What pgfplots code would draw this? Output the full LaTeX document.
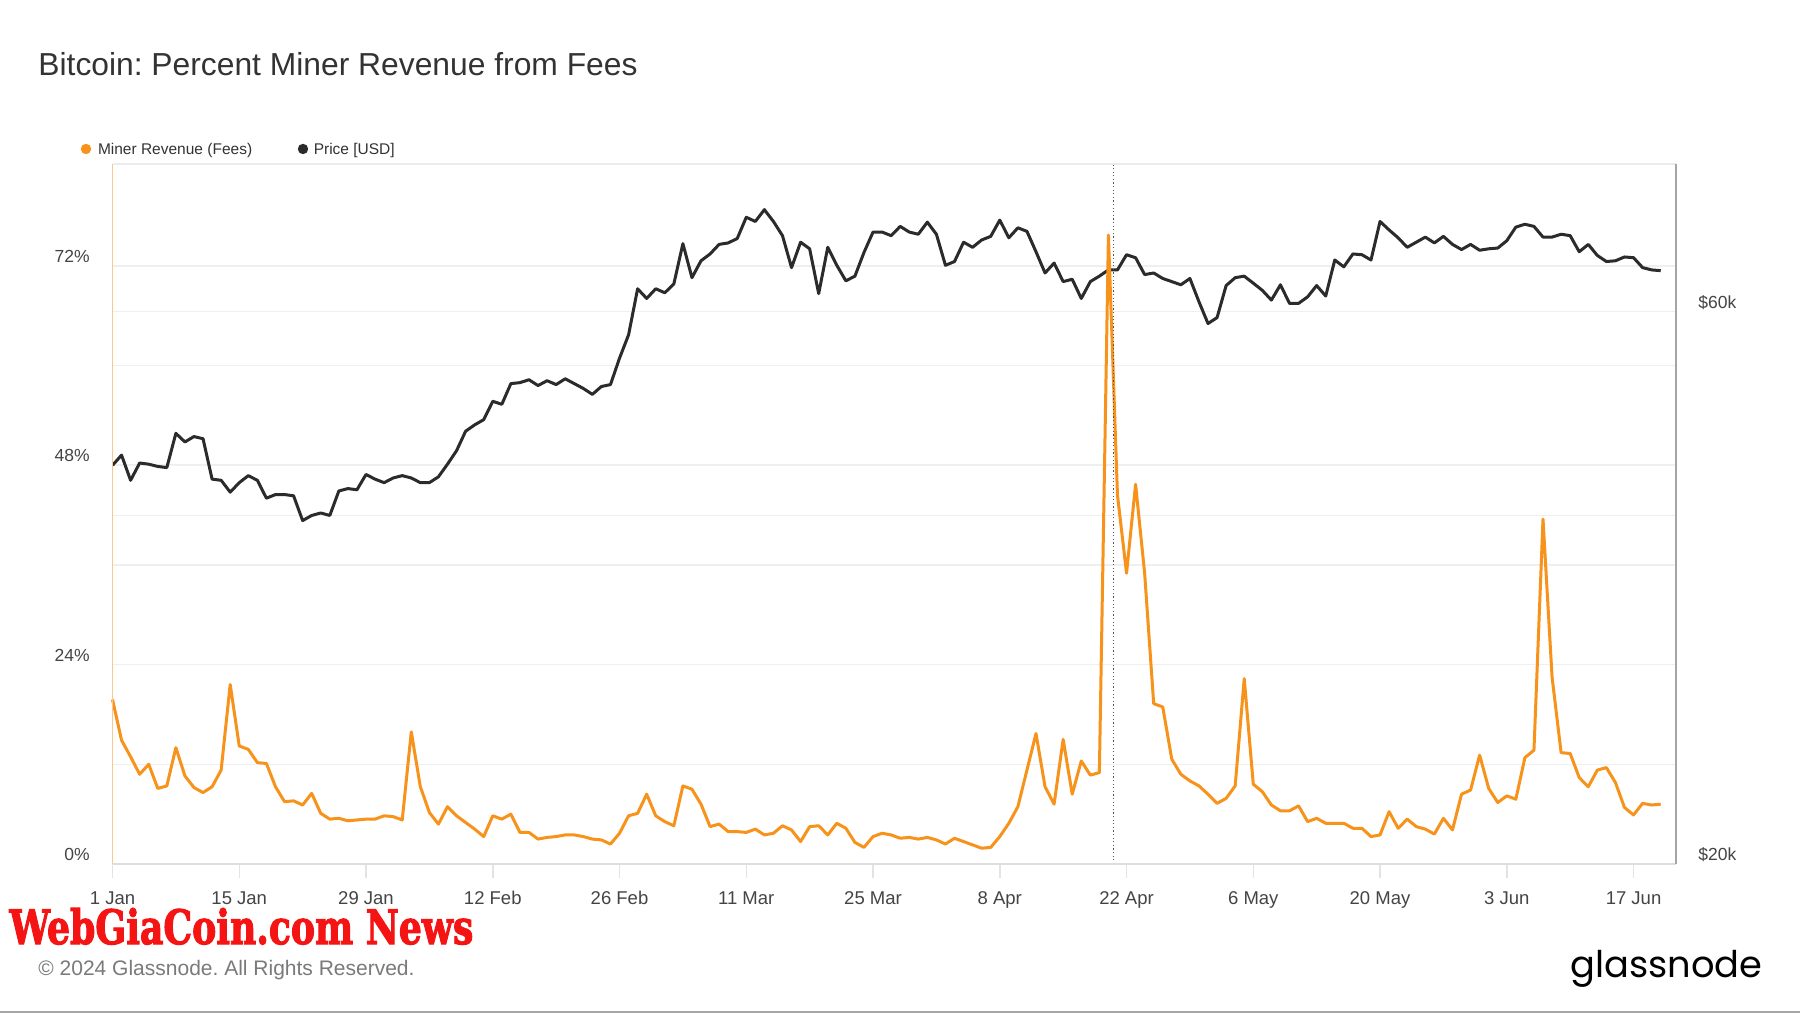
\documentclass[border=0pt]{standalone}
\usepackage{pgfplots}
\pgfplotsset{compat=1.18}
\usepackage{pgfplotstable}
\usepackage{graphicx}
\usepackage{fontspec}
\setmainfont{Liberation Sans}
\newfontfamily\wmfont{DejaVu Serif}[BoldFeatures={FakeBold=2.5}]
\newfontfamily\logofont{Poppins}
\definecolor{btc}{HTML}{F7931A}
\definecolor{pricec}{HTML}{2B2B2B}
\definecolor{gridc}{HTML}{EFEFEF}
\definecolor{txt}{HTML}{333333}
\definecolor{tickc}{HTML}{444444}
\definecolor{tickline}{HTML}{E3E3E3}
\definecolor{leftax}{HTML}{F9C890}
\definecolor{rightax}{HTML}{A5A5A5}
\definecolor{bottomax}{HTML}{DDDDDD}
\definecolor{topax}{HTML}{EBEBEB}
\definecolor{dotc}{HTML}{555555}
\definecolor{copyc}{HTML}{7A7A7A}
\definecolor{wmred}{HTML}{F51414}
\frenchspacing

\pgfplotstableread{
d p
0 44200
1 45100
2 42900
3 44400
4 44300
5 44100
6 44000
7 47100
8 46300
9 46800
10 46600
11 43000
12 42900
13 41900
14 42700
15 43300
16 42900
17 41400
18 41700
19 41700
20 41600
21 39600
22 40000
23 40200
24 40000
25 42000
26 42200
27 42100
28 43400
29 43000
30 42700
31 43100
32 43300
33 43100
34 42700
35 42700
36 43200
37 44300
38 45500
39 47300
40 47900
41 48400
42 50200
43 49900
44 52000
45 52100
46 52400
47 51800
48 52300
49 51900
50 52500
51 52000
52 51500
53 50900
54 51700
55 51900
56 54700
57 57300
58 62800
59 61600
60 62800
61 62300
62 63400
63 68700
64 64200
65 66400
66 67300
67 68600
68 68800
69 69400
70 72400
71 71800
72 73500
73 71800
74 69800
75 65500
76 68900
77 68000
78 62200
79 68200
80 65800
81 63800
82 64400
83 67500
84 70300
85 70300
86 69800
87 71100
88 70300
89 70000
90 71700
91 70000
92 65800
93 66300
94 68900
95 68200
96 69200
97 69700
98 72000
99 69500
100 70900
101 70400
102 67600
103 64800
104 66100
105 63700
106 64000
107 61600
108 63700
109 64400
110 65200
111 65200
112 67200
113 66800
114 64600
115 64800
116 64100
117 63700
118 63300
119 64100
120 61200
121 58600
122 59300
123 63200
124 64200
125 64400
126 63500
127 62600
128 61400
129 63300
130 61000
131 61000
132 61800
133 63200
134 61900
135 66500
136 65600
137 67300
138 67200
139 66500
140 71800
141 70600
142 69500
143 68200
144 68900
145 69600
146 68800
147 69700
148 68600
149 67900
150 68600
151 67800
152 68000
153 68100
154 69100
155 71000
156 71400
157 71100
158 69600
159 69600
160 70000
161 69800
162 67600
163 68600
164 67100
165 66300
166 66400
167 66900
168 66800
169 65500
170 65200
171 65100
}\pricetab

\pgfplotstableread{
d f
0 19.8
1 14.9
2 12.9
3 10.8
4 12.0
5 9.1
6 9.4
7 14.0
8 10.6
9 9.2
10 8.6
11 9.3
12 11.3
13 21.6
14 14.2
15 13.8
16 12.2
17 12.1
18 9.3
19 7.5
20 7.6
21 7.1
22 8.5
23 6.1
24 5.4
25 5.5
26 5.2
27 5.3
28 5.4
29 5.4
30 5.8
31 5.7
32 5.3
33 15.9
34 9.3
35 6.2
36 4.8
37 6.9
38 5.8
39 5.0
40 4.2
41 3.3
42 5.8
43 5.4
44 6.0
45 3.8
46 3.8
47 3.0
48 3.2
49 3.3
50 3.5
51 3.5
52 3.3
53 3.0
54 2.9
55 2.4
56 3.7
57 5.8
58 6.1
59 8.4
60 5.8
61 5.1
62 4.6
63 9.4
64 9.0
65 7.2
66 4.5
67 4.8
68 3.9
69 3.9
70 3.8
71 4.2
72 3.5
73 3.7
74 4.6
75 4.1
76 2.7
77 4.5
78 4.6
79 3.5
80 4.9
81 4.3
82 2.6
83 2.0
84 3.3
85 3.7
86 3.5
87 3.1
88 3.2
89 3.0
90 3.2
91 2.9
92 2.4
93 3.1
94 2.7
95 2.3
96 1.9
97 2.0
98 3.3
99 4.9
100 6.9
101 11.3
102 15.7
103 9.3
104 7.2
105 15.0
106 8.4
107 12.4
108 10.7
109 11.0
110 75.7
111 44.4
112 35.0
113 45.7
114 35.0
115 19.3
116 18.9
117 12.6
118 10.8
119 10.0
120 9.4
121 8.4
122 7.3
123 7.9
124 9.4
125 22.3
126 9.6
127 8.7
128 7.1
129 6.4
130 6.4
131 7.0
132 5.1
133 5.5
134 4.9
135 4.9
136 4.9
137 4.3
138 4.3
139 3.3
140 3.5
141 6.3
142 4.3
143 5.4
144 4.5
145 4.2
146 3.6
147 5.5
148 4.1
149 8.4
150 8.9
151 13.1
152 9.1
153 7.4
154 8.2
155 7.8
156 12.8
157 13.7
158 41.5
159 22.5
160 13.4
161 13.3
162 10.4
163 9.3
164 11.3
165 11.6
166 9.8
167 6.8
168 5.9
169 7.3
170 7.1
171 7.2
}\feetab

\pgfplotsset{
  common/.style={
    at={(56.25pt,74.5pt)}, anchor=south west, scale only axis,
    width=781.75pt, height=350pt, xmin=0, xmax=172.69,
    axis line style={draw=none},
  },
  lblfont/.style={font=\fontsize{8.75pt}{10pt}\selectfont, text=tickc, inner sep=0pt},
}

\begin{document}
\begin{tikzpicture}
\path[use as bounding box, fill=white] (0,0) rectangle (900pt,506.5pt);

% grids, left labels, x ticks
\begin{axis}[common,
  ymin=0, ymax=84.25,
  tick align=outside, major tick length=7pt, minor tick length=0pt,
  xtick={0,14,...,168},
  xticklabels={1 Jan,15 Jan,29 Jan,12 Feb,26 Feb,11 Mar,25 Mar,8 Apr,22 Apr,6 May,20 May,3 Jun,17 Jun},
  xtick pos=bottom, x tick style={draw=tickline, line width=0.75pt},
  xticklabel style={lblfont, font=\fontsize{9.25pt}{11pt}\selectfont, anchor=base, yshift=-13.3pt},
  ytick={0,24,48,72}, yticklabels={0\%,24\%,48\%,72\%},
  ytick pos=left, y tick style={draw=none},
  yticklabel style={lblfont, anchor=east, xshift=-4.25pt, yshift=4.75pt},
  minor ytick={12,36,60},
  extra y ticks={41.936,66.468}, extra y tick labels={},
  ymajorgrids, yminorgrids,
  major grid style={draw=gridc, line width=0.75pt},
  minor grid style={draw=gridc, line width=0.75pt},
]
\addplot[draw=none] coordinates {(0,0)};
\end{axis}

% price (right, log)
\begin{axis}[common,
  ymode=log, ymin=20000, ymax=80500,
  xtick=\empty, yminorticks=false,
  major tick length=0pt,
  ytick={20000,60000}, yticklabels={\$20k,\$60k},
  ytick pos=right, y tick style={draw=none},
  yticklabel style={lblfont, anchor=west, xshift=11pt, yshift=4.75pt},
]
\addplot[pricec, line width=1.5pt, line join=round] table[x=d,y=p]{\pricetab};
\end{axis}

% fees (left)
\begin{axis}[common, clip=false,
  ymin=0, ymax=84.25, xtick=\empty, ytick=\empty,
]
\addplot[btc, line width=1.5pt, line join=round] table[x=d,y=f]{\feetab};
\draw[dotc, line width=0.7pt, dash pattern=on 0.6pt off 1.2pt] (axis cs:110.55,0) -- (axis cs:110.55,84.25);
\draw[topax, line width=0.75pt] (rel axis cs:0,1) -- (rel axis cs:1,1);
\draw[bottomax, line width=1pt] (rel axis cs:0,0) -- (rel axis cs:1,0);
\draw[leftax, line width=0.8pt] (rel axis cs:0,0) -- (rel axis cs:0,1);
\draw[rightax, line width=1pt] (rel axis cs:1,0) -- (rel axis cs:1,1);
\end{axis}

% title
\node[anchor=base west, inner sep=0pt, text=txt, font=\fontsize{15.9pt}{18pt}\selectfont] at (19pt,468.6pt) {Bitcoin: Percent Miner Revenue from Fees};

% legend
\fill[btc] (43pt,432pt) circle (2.6pt);
\node[anchor=base west, inner sep=0pt, text=txt, font=\fontsize{7.75pt}{9pt}\selectfont] at (48.8pt,429.25pt) {Miner Revenue (Fees)};
\fill[pricec] (151.5pt,432pt) circle (2.6pt);
\node[anchor=base west, inner sep=0pt, text=txt, font=\fontsize{7.75pt}{9pt}\selectfont] at (156.7pt,429.25pt) {Price [USD]};

% watermark
\node[anchor=base west, inner sep=0pt, text=wmred] at (4.5pt,34.5pt) {\resizebox{232pt}{18pt}{\wmfont\bfseries WebGiaCoin.com News}};

% copyright
\node[anchor=base west, inner sep=0pt, text=copyc, font=\fontsize{10.5pt}{12pt}\selectfont] at (19pt,18.75pt) {© 2024 Glassnode. All Rights Reserved.};

% logo
\node[anchor=base west, inner sep=0pt, text=black] at (785pt,18pt) {\resizebox{96pt}{!}{\logofont glassnode}};

% bottom border
\draw[gray!70, line width=1pt] (0,0.5pt) -- (900pt,0.5pt);
\end{tikzpicture}
\end{document}
